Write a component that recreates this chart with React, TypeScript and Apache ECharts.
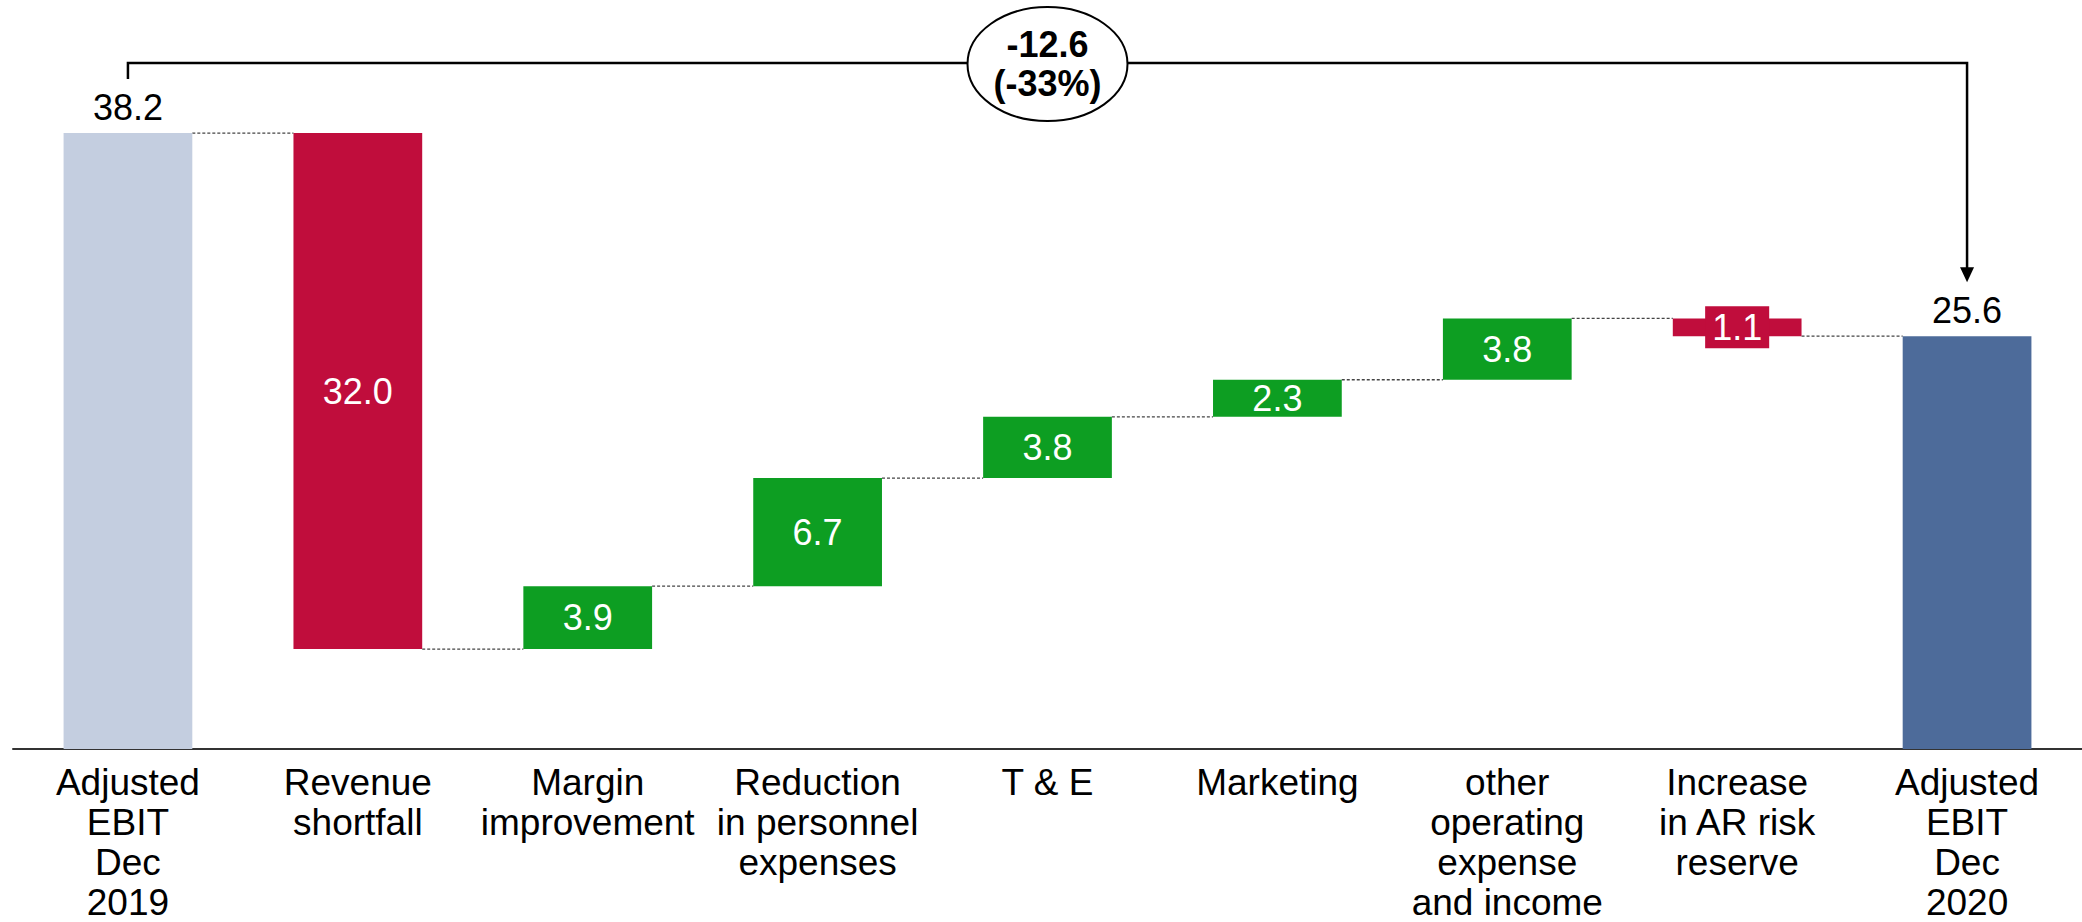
import React, { useEffect, useRef } from "react";
import * as echarts from "echarts";

const categories = [
  "Adjusted\nEBIT\nDec\n2019",
  "Revenue\nshortfall",
  "Margin\nimprovement",
  "Reduction\nin personnel\nexpenses",
  "T & E",
  "Marketing",
  "other\noperating\nexpense\nand income",
  "Increase\nin AR risk\nreserve",
  "Adjusted\nEBIT\nDec\n2020",
];
const startValue = 38.2;
const changes = [-32.0, 3.9, 6.7, 3.8, 2.3, 3.8, -1.1];
const endValue = 25.6;

const COLORS = {
  start: "#C4CEE0",
  end: "#4D6B9A",
  up: "#0D9E22",
  down: "#C00D3C",
};
const FONT = "'Liberation Sans', Arial, Helvetica, sans-serif";

const r1 = (v: number) => Math.round(v * 10) / 10;

export default function App() {
  const ref = useRef<HTMLDivElement>(null);

  useEffect(() => {
    if (!ref.current) return;
    const chart = echarts.init(ref.current, null, { renderer: "svg" });

    const bases: number[] = [0];
    const heights: number[] = [startValue];
    const levels: number[] = [startValue];
    const colors: string[] = [COLORS.start];
    let running = startValue;
    changes.forEach((c) => {
      const next = r1(running + c);
      bases.push(Math.min(running, next));
      heights.push(Math.abs(c));
      levels.push(next);
      colors.push(c < 0 ? COLORS.down : COLORS.up);
      running = next;
    });
    bases.push(0);
    heights.push(endValue);
    levels.push(endValue);
    colors.push(COLORS.end);

    const n = categories.length;
    const barRatio = 0.56;

    const barData = heights.map((h, i) => {
      const isTotal = i === 0 || i === n - 1;
      const item: any = {
        value: h,
        itemStyle: { color: colors[i] },
        label: isTotal
          ? { position: "top", color: "#000", distance: 8 }
          : { position: "inside", color: "#fff" },
      };
      if (!isTotal && heights[i] < 2) {
        item.label.backgroundColor = colors[i];
        item.label.padding = [3, 7];
      }
      return item;
    });

    const connectorData = levels.slice(0, n - 1).map((v, i) => [i, v]);

    chart.setOption({
      animation: false,
      grid: { left: 13, right: -5, top: 104, bottom: 171, containLabel: false },
      xAxis: {
        type: "category",
        data: categories,
        axisLine: { show: true, lineStyle: { color: "#333", width: 2 } },
        axisTick: { show: false },
        axisLabel: {
          interval: 0,
          margin: 13,
          fontSize: 37,
          lineHeight: 40,
          color: "#000",
          fontFamily: FONT,
        },
      },
      yAxis: {
        type: "value",
        min: 0,
        max: 40,
        show: false,
        splitLine: { show: false },
      },
      series: [
        {
          type: "bar",
          stack: "wf",
          data: bases,
          barWidth: barRatio * 100 + "%",
          itemStyle: { color: "transparent" },
          label: { show: false },
          silent: true,
        },
        {
          type: "bar",
          stack: "wf",
          data: barData,
          barWidth: barRatio * 100 + "%",
          silent: true,
          label: {
            show: true,
            fontSize: 36,
            fontFamily: FONT,
            formatter: (p: any) => Number(p.value).toFixed(1),
          },
        },
        {
          type: "custom",
          silent: true,
          data: connectorData,
          z: 1,
          renderItem: (params: any, api: any) => {
            const i = api.value(0);
            const v = api.value(1);
            const a = api.coord([i, v]);
            const b = api.coord([i + 1, v]);
            const half = (api.size([1, 0])[0] * barRatio) / 2;
            return {
              type: "line",
              shape: { x1: a[0] + half, y1: a[1], x2: b[0] - half, y2: b[1] },
              style: { stroke: "#444", lineWidth: 1.3, lineDash: [3, 2] },
            };
          },
        },
      ],
    });

    const p0 = chart.convertToPixel({ seriesIndex: 1 }, [0, startValue]);
    const p8 = chart.convertToPixel({ seriesIndex: 1 }, [n - 1, endValue]);
    const bracketY = p0[1] - 70;
    const leftBottom = p0[1] - 54;
    const tipY = p8[1] - 54;
    const arrowH = 15;
    const arrowW = 7;
    const midX = (p0[0] + p8[0]) / 2;
    const diff = r1(endValue - startValue);
    const pct = Math.round((diff / startValue) * 100);

    chart.setOption({
      graphic: [
        {
          type: "polyline",
          z: 10,
          shape: {
            points: [
              [p0[0], leftBottom],
              [p0[0], bracketY],
              [p8[0], bracketY],
              [p8[0], tipY - arrowH + 1],
            ],
          },
          style: { stroke: "#000", lineWidth: 2.5, fill: null },
        },
        {
          type: "polygon",
          z: 10,
          shape: {
            points: [
              [p8[0] - arrowW, tipY - arrowH],
              [p8[0] + arrowW, tipY - arrowH],
              [p8[0], tipY],
            ],
          },
          style: { fill: "#000" },
        },
        {
          type: "ellipse",
          z: 11,
          shape: { cx: midX, cy: bracketY + 1, rx: 80, ry: 57 },
          style: { fill: "#fff", stroke: "#000", lineWidth: 2 },
        },
        {
          type: "text",
          z: 12,
          x: midX,
          y: bracketY + 1,
          style: {
            text: `${diff.toFixed(1)}\n(${pct}%)`,
            fontSize: 36,
            fontWeight: "bold",
            lineHeight: 39,
            fontFamily: FONT,
            fill: "#000",
            align: "center",
            verticalAlign: "middle",
          },
        },
      ],
    });

    return () => chart.dispose();
  }, []);

  return (
    <div
      ref={ref}
      style={{ position: "absolute", left: 0, top: 0, width: 2082, height: 922 }}
    />
  );
}
